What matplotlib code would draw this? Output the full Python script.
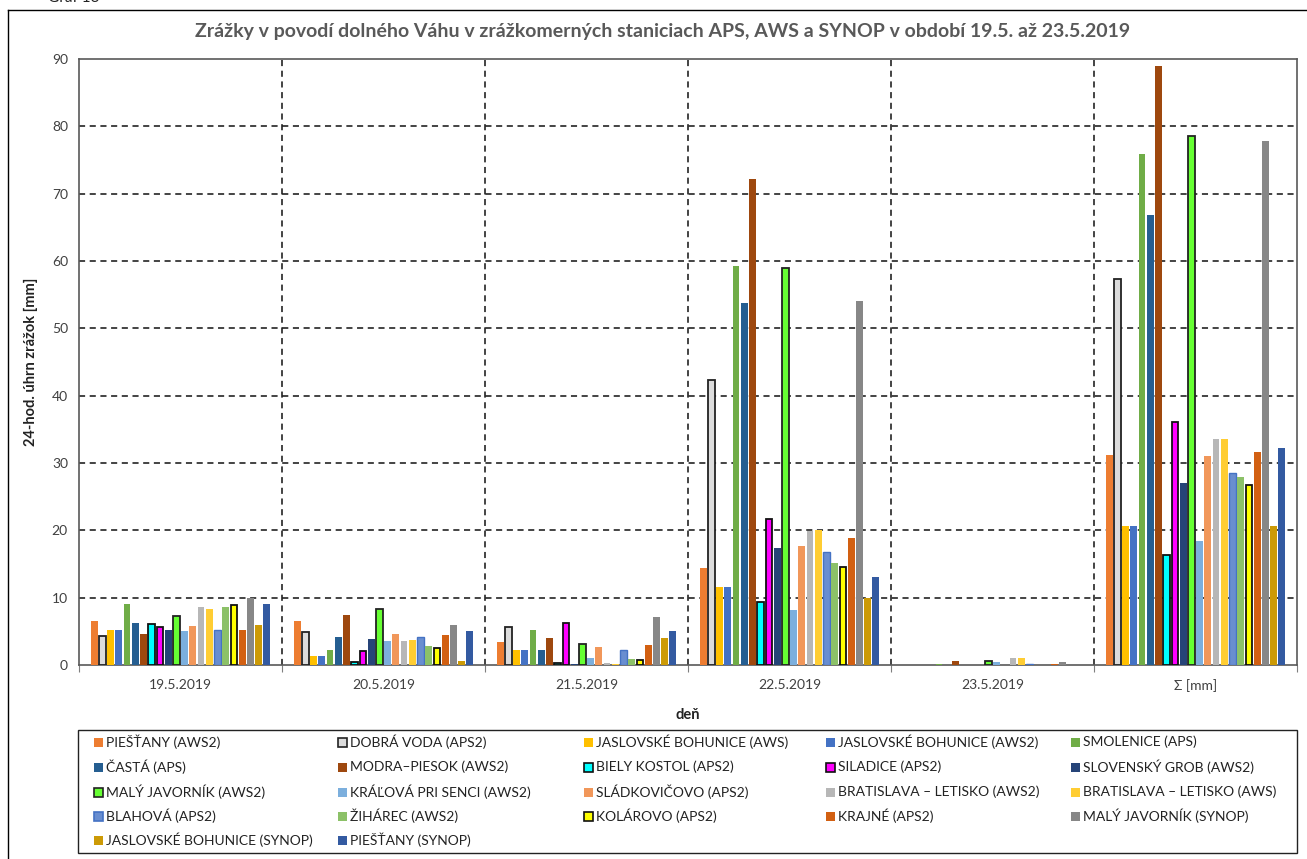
import matplotlib
matplotlib.use("Agg")
import matplotlib.pyplot as plt
from matplotlib.patches import Rectangle
from matplotlib.lines import Line2D
import numpy as np

plt.rcParams['font.family'] = ['Lato', 'DejaVu Sans']

# Days / categories
days = ["19.5.2019", "20.5.2019", "21.5.2019", "22.5.2019", "23.5.2019", "Σ [mm]"]

# Stations (series)
stations = [
    "PIEŠŤANY (AWS2)", "DOBRÁ VODA (APS2)", "JASLOVSKÉ BOHUNICE (AWS)",
    "JASLOVSKÉ BOHUNICE (AWS2)", "SMOLENICE (APS)", "ČASTÁ (APS)",
    "MODRA–PIESOK (AWS2)", "BIELY KOSTOL (APS2)", "SILADICE (APS2)",
    "SLOVENSKÝ GROB (AWS2)", "MALÝ JAVORNÍK (AWS2)", "KRÁĽOVÁ PRI SENCI (AWS2)",
    "SLÁDKOVIČOVO (APS2)", "BRATISLAVA – LETISKO (AWS2)", "BRATISLAVA – LETISKO (AWS)",
    "BLAHOVÁ (APS2)", "ŽIHÁREC (AWS2)", "KOLÁROVO (APS2)", "KRAJNÉ (APS2)",
    "MALÝ JAVORNÍK (SYNOP)", "JASLOVSKÉ BOHUNICE (SYNOP)", "PIEŠŤANY (SYNOP)",
]

# 24-hour precipitation totals [mm] per station, one value per day + total
piestany_aws2 = [6.6, 6.6, 3.4, 14.4, 0.0, 31.2]
dobra_voda = [4.3, 4.95, 5.7, 42.3, 0.0, 57.3]
jb_aws = [5.15, 1.4, 2.2, 11.6, 0.0, 20.6]
jb_aws2 = [5.15, 1.4, 2.2, 11.6, 0.0, 20.6]
smolenice = [9.0, 2.2, 5.15, 59.2, 0.2, 75.9]
casta = [6.3, 4.2, 2.2, 53.8, 0.0, 66.8]
modra_piesok = [4.55, 7.4, 3.95, 72.2, 0.6, 88.9]
biely_kostol = [6.1, 0.5, 0.3, 9.3, 0.0, 16.3]
siladice = [5.7, 2.1, 6.3, 21.7, 0.0, 36.1]
slovensky_grob = [5.15, 3.8, 0.15, 17.4, 0.0, 27.0]
maly_javornik_aws2 = [7.3, 8.3, 3.1, 58.9, 0.6, 78.5]
kralova = [5.0, 3.55, 1.0, 8.2, 0.4, 18.4]
sladkovicovo = [5.75, 4.55, 2.6, 17.6, 0.0, 31.0]
bratislava_aws2 = [8.55, 3.55, 0.35, 19.9, 1.0, 33.5]
bratislava_aws = [8.35, 3.75, 0.15, 20.0, 1.0, 33.5]
blahova = [5.15, 4.15, 2.2, 16.8, 0.2, 28.5]
ziharec = [8.55, 2.8, 0.95, 15.2, 0.0, 27.9]
kolarovo = [8.9, 2.5, 0.75, 14.5, 0.0, 26.7]
krajne = [5.15, 4.4, 3.0, 18.8, 0.2, 31.7]
maly_javornik_synop = [9.9, 6.0, 7.2, 54.0, 0.5, 77.8]
jb_synop = [6.0, 0.6, 3.95, 10.0, 0.0, 20.6]
piestany_synop = [9.0, 5.0, 5.0, 13.0, 0.0, 32.2]

series = [
    piestany_aws2, dobra_voda, jb_aws, jb_aws2, smolenice, casta, modra_piesok,
    biely_kostol, siladice, slovensky_grob, maly_javornik_aws2, kralova,
    sladkovicovo, bratislava_aws2, bratislava_aws, blahova, ziharec, kolarovo,
    krajne, maly_javornik_synop, jb_synop, piestany_synop,
]

face_colors = [
    "#ED7D31", "#DCDCDC", "#FFC000", "#4472C4", "#70AD47", "#255E91", "#9E480E",
    "#00FFFF", "#FF00FF", "#264478", "#66FF33", "#7CAFDD", "#F1975A", "#B7B7B7",
    "#FFCD33", "#698ED0", "#8CC168", "#FFFF00", "#D26012", "#878787", "#CC9A06",
    "#335AA1",
]
edge_colors = [
    None, "#222222", None, None, None, None, None, "#111111", "#111111", None,
    "#222222", None, None, None, None, "#4472C4", None, "#111111", None, None,
    None, None,
]

fig = plt.figure(figsize=(13.07, 8.59), dpi=100)
W, H = 1307, 859

def fx(px):
    return px / W

def fy(py):
    return 1 - py / H

# outer chart frame (open to the right)
fig.add_artist(Line2D([fx(8), 1.0], [fy(10), fy(10)], color="black", lw=1.0))
fig.add_artist(Line2D([fx(8), fx(8)], [fy(10), 0.0], color="black", lw=1.0))
fig.text(fx(48), fy(5), "Graf 13", fontsize=11, color="#222222", ha="left", va="bottom")

ax_l, ax_r, ax_t, ax_b = 79, 1297, 59, 665
ax = fig.add_axes([fx(ax_l), fy(ax_b), fx(ax_r - ax_l), (ax_b - ax_t) / H])

n = len(series)
step = 0.0405
bar_w = 0.033
x = np.arange(len(days))
for i, (vals, fc, ec) in enumerate(zip(series, face_colors, edge_colors)):
    offs = (i - (n - 1) / 2) * step
    vals = np.asarray(vals, dtype=float)
    if ec is None:
        ax.bar(x + offs, vals, width=bar_w, color=fc, edgecolor="none", zorder=3)
    else:
        lw = 1.0 if ec == "#4472C4" else 1.3
        # no outline on days without rain
        lws = np.where(vals > 0, lw, 0.0)
        ax.bar(x + offs, vals, width=bar_w, color=fc, edgecolor=ec, linewidth=lws, zorder=3)

ax.set_xlim(-0.5, len(days) - 0.5)
ax.set_ylim(0, 90)
ax.set_yticks(np.arange(0, 91, 10))
ax.tick_params(axis="y", length=0, pad=8, labelsize=10, labelcolor="#404040")

ax.set_xticks(np.arange(-0.5, len(days), 1.0))
ax.set_xticklabels([])
ax.tick_params(axis="x", which="major", length=5, color="#7F7F7F", direction="out")
ax.set_xticks(x, minor=True)
ax.set_xticklabels(days, minor=True)
ax.tick_params(axis="x", which="minor", length=0, pad=10, labelsize=10, labelcolor="#404040")

for yv in range(10, 90, 10):
    ax.axhline(yv, color="#111111", lw=1.1, ls=(0, (4, 3)), zorder=1)
for xv in np.arange(0.5, len(days) - 0.5, 1.0):
    ax.axvline(xv, color="#111111", lw=1.1, ls=(0, (4, 3)), zorder=1)

for side in ["left", "right", "top", "bottom"]:
    ax.spines[side].set_color("#595959")
    ax.spines[side].set_linewidth(1.2)

fig.text(fx(31), fy(362), "24-hod. úhrn zrážok [mm]", fontsize=10.5, fontweight="bold",
         color="#222222", ha="center", va="center", rotation=90)
fig.text(fx(688), fy(715), "deň", fontsize=10.5, fontweight="bold",
         color="#222222", ha="center", va="center")

fig.text(fx(663), fy(32), "Zrážky v povodí dolného Váhu v zrážkomerných staniciach APS, AWS a SYNOP v období 19.5. až 23.5.2019",
         fontsize=14, fontweight="bold", color="#595959", ha="center", va="center")

# legend: frame + entries laid out row by row in five columns
fig.add_artist(Rectangle((fx(78), fy(853)), fx(1297 - 78), (853 - 730) / H,
                         fill=False, edgecolor="#222222", lw=1.0))
col_x = [94, 338, 584, 826, 1071]
row_y = [742, 767, 792, 816, 840]
sq = 9
ncol = 5
for k, name in enumerate(stations):
    r, c = divmod(k, ncol)
    x0, yc = col_x[c], row_y[r]
    ec = edge_colors[k] if edge_colors[k] else face_colors[k]
    lw = 1.2 if edge_colors[k] else 0.0
    fig.add_artist(Rectangle((fx(x0), fy(yc + sq / 2)), fx(sq), sq / H,
                             facecolor=face_colors[k], edgecolor=ec, lw=lw))
    fig.text(fx(x0 + sq + 3), fy(yc), name, fontsize=10, color="#222222",
             ha="left", va="center")

fig.savefig("out.png", dpi=100)
